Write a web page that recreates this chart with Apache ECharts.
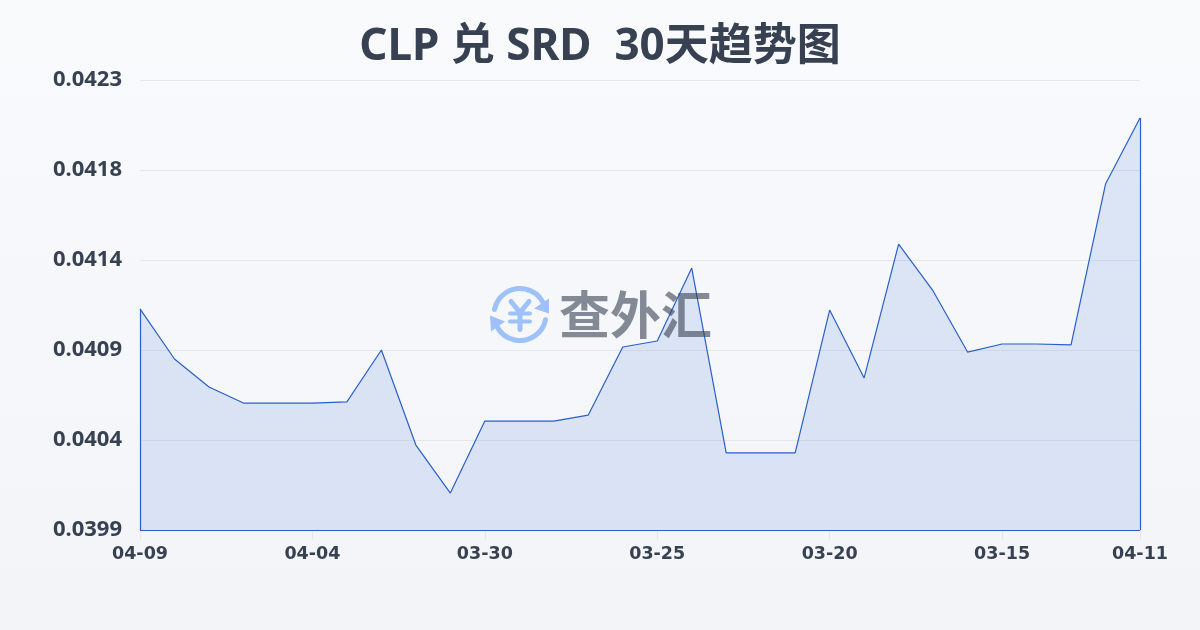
<!DOCTYPE html>
<html>
<head>
<meta charset="utf-8">
<style>
  html, body { margin: 0; padding: 0; }
  #chart { width: 1200px; height: 630px; }
</style>
</head>
<body>
<div id="chart"></div>
<script src="https://cdn.jsdelivr.net/npm/echarts@6/dist/echarts.min.js"></script>
<script>
const titleText = 'CLP 兑 SRD  30天趋势图'
const dates = [
  '04-09', '04-08', '04-07', '04-06', '04-05', '04-04', '04-03', '04-02', '04-01', '03-31',
  '03-30', '03-29', '03-28', '03-27', '03-26', '03-25', '03-24', '03-23', '03-22', '03-21',
  '03-20', '03-19', '03-18', '03-17', '03-16', '03-15', '03-14', '03-13', '03-12', '04-11'
]
const rates = [
  0.041099, 0.040832, 0.040683, 0.040597, 0.040597, 0.040597, 0.040603, 0.04088, 0.040373, 0.040117,
  0.040501, 0.040501, 0.040501, 0.040533, 0.040896, 0.040928, 0.041317, 0.040331, 0.040331, 0.040331,
  0.041093, 0.040731, 0.041445, 0.041195, 0.040869, 0.040912, 0.040912, 0.040907, 0.041765, 0.042117
]
const yMin = 0.03992
const yMax = 0.04232
const yStep = 0.00048

const textColor = '#374151'
const lineColor = '#2a5fc9'
const logoColor = '#9dc1f8'
const showDate = i => i % 5 === 0 || i === dates.length - 1

const chart = echarts.init(document.getElementById('chart'))
chart.setOption({
  animation: false,
  backgroundColor: {
    type: 'linear', x: 0, y: 0, x2: 0, y2: 1,
    colorStops: [{ offset: 0, color: '#f8fafc' }, { offset: 1, color: '#f2f4f7' }]
  },
  title: {
    text: titleText,
    left: 'center',
    top: 20,
    textStyle: { fontFamily: '"Noto Sans", "Noto Sans CJK SC"', fontSize: 44, fontWeight: 'bold', color: textColor }
  },
  grid: { left: 140, right: 60, top: 80, bottom: 100 },
  xAxis: {
    type: 'category',
    boundaryGap: false,
    data: dates,
    axisLine: { show: false },
    axisTick: { show: true, length: 10, interval: showDate, lineStyle: { color: '#e5e7eb' } },
    axisLabel: {
      interval: showDate,
      hideOverlap: false,
      margin: 15,
      fontFamily: 'DejaVu Sans',
      fontSize: 17.5,
      fontWeight: 'bold',
      color: textColor
    }
  },
  yAxis: {
    type: 'value',
    min: yMin,
    max: yMax,
    interval: yStep,
    axisLine: { show: false },
    axisTick: { show: false },
    splitLine: { lineStyle: { color: '#e5e7eb', width: 1 } },
    axisLabel: {
      margin: 18,
      fontFamily: 'Noto Sans',
      fontSize: 22,
      fontWeight: 'bold',
      color: textColor,
      formatter: v => v.toFixed(4)
    }
  },
  series: [{
    type: 'line',
    data: rates,
    symbol: 'none',
    z: 3,
    lineStyle: { color: lineColor, width: 1.2 },
    areaStyle: { color: 'rgba(59, 110, 220, 0.2)' },
    // the outline closes down the two sides and along the base
    markLine: {
      silent: true,
      symbol: 'none',
      label: { show: false },
      lineStyle: { color: lineColor, width: 1.2, type: 'solid' },
      data: [
        [{ xAxis: 0, yAxis: yMin }, { xAxis: 0, yAxis: rates[0] }],
        [{ xAxis: 0, yAxis: yMin }, { xAxis: dates.length - 1, yAxis: yMin }],
        [{ xAxis: dates.length - 1, yAxis: yMin }, { xAxis: dates.length - 1, yAxis: rates[rates.length - 1] }]
      ]
    }
  }],
  // watermark logo
  graphic: [
    { type: 'group', left: 490, top: 286, z: 10, children: [
      { type: 'arc', shape: { cx: 30, cy: 29, r: 26, startAngle: -2.95, endAngle: -0.45 }, style: { stroke: logoColor, lineWidth: 5, fill: null, lineCap: 'round' } },
      { type: 'arc', shape: { cx: 30, cy: 29, r: 26, startAngle: 0.2, endAngle: 2.7 }, style: { stroke: logoColor, lineWidth: 5, fill: null, lineCap: 'round' } },
      { type: 'polygon', shape: { points: [[59, 13], [59, 28], [44, 23]] }, style: { fill: logoColor } },
      { type: 'polygon', shape: { points: [[0, 30], [15, 36], [1, 46]] }, style: { fill: logoColor } },
      { type: 'polyline', shape: { points: [[21, 16], [30, 27], [39, 16]] }, style: { stroke: logoColor, lineWidth: 5, fill: null, lineCap: 'round', lineJoin: 'round' } },
      { type: 'line', shape: { x1: 30, y1: 27, x2: 30, y2: 44 }, style: { stroke: logoColor, lineWidth: 5, lineCap: 'round' } },
      { type: 'line', shape: { x1: 20, y1: 28, x2: 40, y2: 28 }, style: { stroke: logoColor, lineWidth: 4, lineCap: 'round' } },
      { type: 'line', shape: { x1: 20, y1: 36, x2: 40, y2: 36 }, style: { stroke: logoColor, lineWidth: 4, lineCap: 'round' } }
    ] },
    {
      type: 'text', left: 559, top: 289, z: 10,
      style: { text: '查外汇', fill: 'rgba(55, 65, 81, 0.6)', font: 'bold 51px "Noto Sans CJK SC"' }
    }
  ]
})
</script>
</body>
</html>
